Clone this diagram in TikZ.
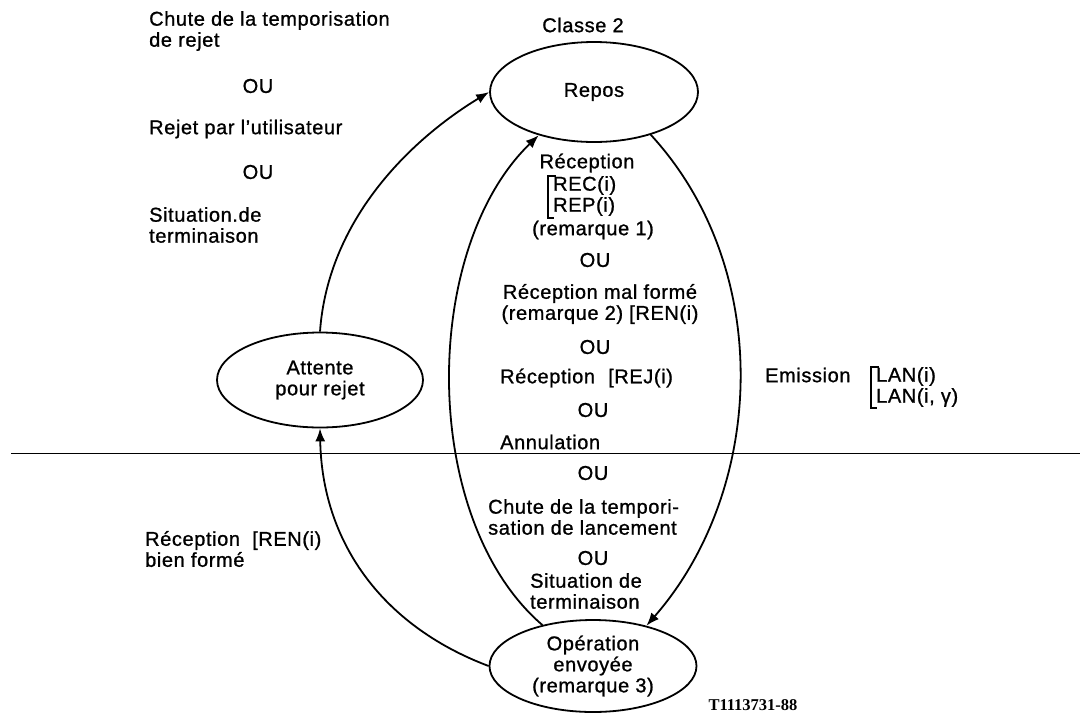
\documentclass[tikz,border=0pt]{standalone}
\usepackage{fontspec}
\setmainfont{Liberation Sans}[LetterSpace=3,FakeBold=1]
\newfontfamily\refserif{Liberation Serif}
\usetikzlibrary{shapes.geometric,arrows.meta}
\begin{document}
\begin{tikzpicture}[x=1pt,y=-1pt,
  txt/.style={font=\fontsize{20}{21}\selectfont, inner sep=0pt},
  lt/.style={txt, anchor=west, align=left},
  ct/.style={txt, anchor=center, align=center},
  state/.style={ellipse, draw, line width=1.8pt, inner sep=0pt, font=\fontsize{20}{21}\selectfont, align=center},
  trans/.style={line width=1.8pt, -{Latex[length=13pt,width=10pt]}},
  brk/.style={line width=1.6pt},
  sep/.style={line width=1pt}
]
\useasboundingbox (0,0) rectangle (1080,713);

% left upper texts
\node[lt] (t1) at (149,31) {Chute de la temporisation\\de rejet};
\node[ct] (ou1) at (258,86) {OU};
\node[lt] (t2) at (149,129) {Rejet par l'utilisateur};
\node[ct] (ou2) at (258,172) {OU};
\node[lt] (t3) at (149,225) {Situation.de\\terminaison};

% states
\node[ct] (classe) at (583,25) {Classe 2};
\node[state, minimum width=208pt, minimum height=100pt] (repos) at (594,92) {Repos};
\node[state, minimum width=206pt, minimum height=95pt] (att) at (320,380) {Attente\\pour rejet};
\node[state, minimum width=207pt, minimum height=92pt] (op) at (593,666) {Opération\\envoyée\\(remarque 3)};

% middle texts
\node[ct] (rec) at (587,163) {Réception};
\node[lt] (recrep) at (553,196) {REC(i)\\REP(i)};
\draw[brk] (556,176) -- (548,176) -- (548,218) -- (554,218);
\node[ct] (rem1) at (593,230) {(remarque 1)};
\node[ct] (ou3) at (595,260) {OU};
\node[ct] (mal) at (600,304) {Réception mal formé\\(remarque 2) [REN(i)};
\node[ct] (ou4) at (595,347) {OU};
\node[lt] (rej) at (500,378) {Réception\hspace{7pt} [REJ(i)};
\node[ct] (ou5) at (593,410) {OU};
\node[lt] (ann) at (500,442) {Annulation};
\node[ct] (ou6) at (593,473) {OU};
\node[lt] (chute2) at (488,517) {Chute de la tempori-\\sation de lancement};
\node[ct] (ou7) at (593,558) {OU};
\node[lt] (sit2) at (530,591) {Situation de\\terminaison};

% right texts
\node[lt] (emi) at (765,375) {Emission};
\node[lt] (lan) at (876,387) {LAN(i)\\LAN(i, γ)};
\draw[brk] (879,367) -- (871,367) -- (871,408) -- (877,408);

% lower left text
\node[lt] (renb) at (145,549) {Réception\hspace{6pt} [REN(i)\\bien formé};

% reference
\node[anchor=center, inner sep=0pt, font=\refserif\bfseries\fontsize{16.5}{17}\selectfont] (ref) at (753,705) {T1113731-88};

% separator
\draw[sep] (11,453) -- (1080,453);

% transitions
\draw[trans] (att.north) .. controls (328,220) and (410,140) .. (repos.west);
\draw[trans] (op.141) .. controls (420,520) and (420,250) .. (repos.-142);
\draw[trans] (repos.-37) .. controls (775,270) and (765,490) .. (op.37);
\draw[trans] (op.west) .. controls (380,625) and (322,540) .. (att.south);
\end{tikzpicture}
\end{document}
